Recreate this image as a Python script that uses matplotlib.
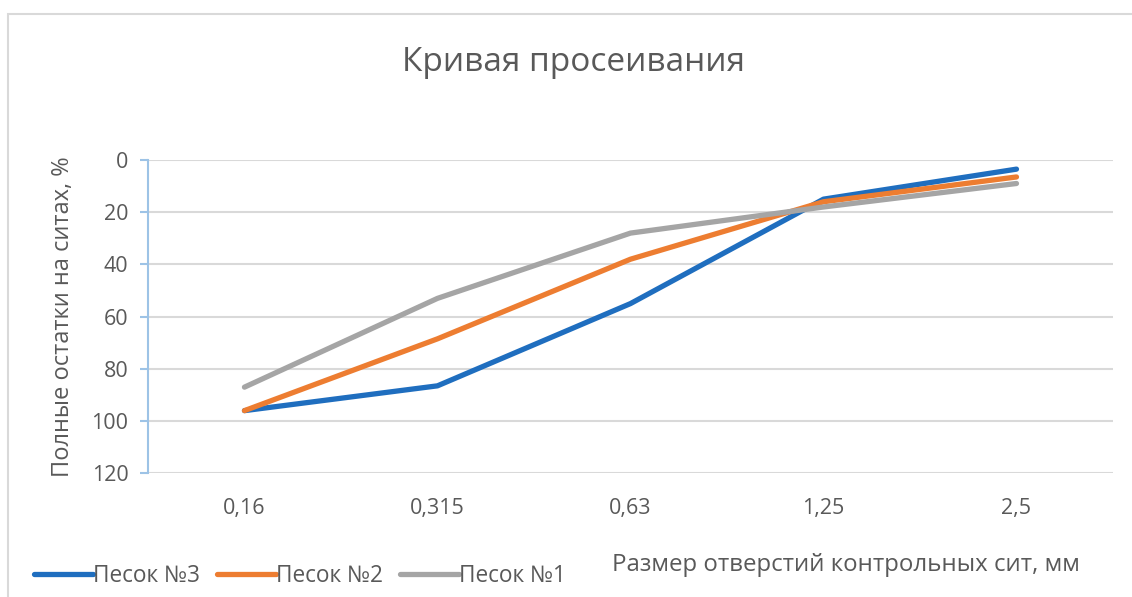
import matplotlib.pyplot as plt
from matplotlib.patches import Rectangle

plt.rcParams['font.family'] = ['Open Sans', 'DejaVu Sans']

sizes = ["0,16", "0,315", "0,63", "1,25", "2,5"]
sand3 = [96, 86.5, 55, 15, 3.5]
sand2 = [96, 68.5, 38, 16, 6.5]
sand1 = [87, 53, 28, 18, 9]

txt = '#595959'

fig = plt.figure(figsize=(11.32, 5.97), dpi=100)
ax = fig.add_axes([0.1307, 0.2072, 0.8525, 0.5248])

x = list(range(len(sizes)))
ax.plot(x, sand3, color='#1F6EBF', lw=3.8, label="Песок №3", solid_capstyle='round')
ax.plot(x, sand2, color='#ED7D31', lw=3.8, label="Песок №2", solid_capstyle='round')
ax.plot(x, sand1, color='#A5A5A5', lw=3.8, label="Песок №1", solid_capstyle='round')

ax.set_xlim(-0.5, 4.5)
ax.set_ylim(120, 0)
ax.set_yticks(range(0, 121, 20))
ax.set_xticks(x)
ax.set_xticklabels(sizes)
ax.yaxis.grid(True, color='#D9D9D9', lw=1.5)
ax.set_axisbelow(True)
for s in ['top', 'right', 'bottom']:
    ax.spines[s].set_visible(False)
ax.spines['left'].set_color('#9DC3E6')
ax.spines['left'].set_linewidth(1.5)
ax.tick_params(axis='y', colors='#9DC3E6', length=6, width=1.5, labelcolor=txt, labelsize=15.5, pad=8)
ax.tick_params(axis='x', length=0, labelcolor=txt, labelsize=15.5, pad=18)

ax.set_ylabel("Полные остатки на ситах, %", color=txt, fontsize=17, labelpad=12)
fig.text(0.507, 0.896, "Кривая просеивания", ha='center', va='center', color=txt, fontsize=24)
fig.text(0.541, 0.053, "Размер отверстий контрольных сит, мм", ha='left', va='center', color=txt, fontsize=17.3)

fig.legend(loc='center left', bbox_to_anchor=(0.012, 0.035), ncol=3, frameon=False,
           handlelength=2.6, handletextpad=0.0, columnspacing=0.75,
           prop={'size': 16.3}, labelcolor=txt)

fig.patches.append(Rectangle((8 / 1132, -0.1), 1.2, 1.1 - 14 / 597,
                             transform=fig.transFigure, fill=False,
                             edgecolor='#D9D9D9', lw=1.5))

fig.savefig("out.png", dpi=100)
